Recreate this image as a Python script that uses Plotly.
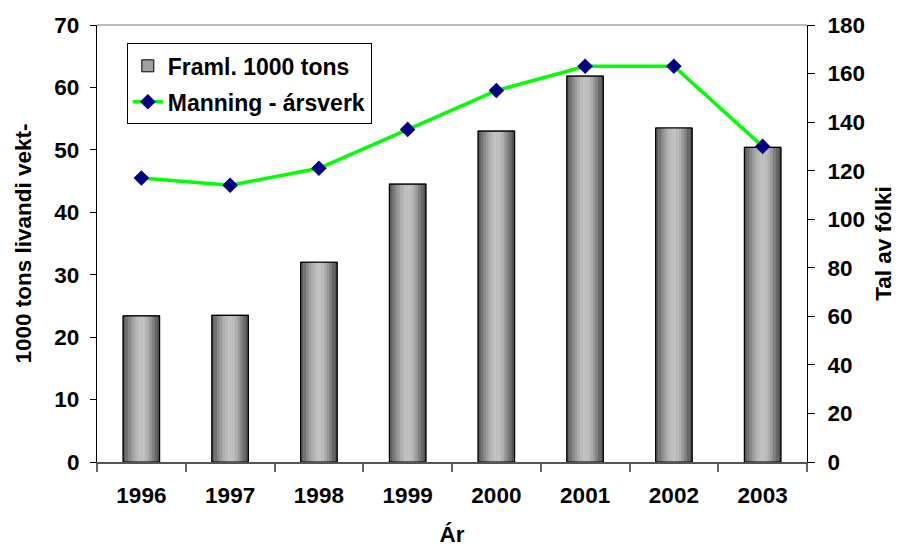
import plotly.graph_objects as go

years = ["1996", "1997", "1998", "1999", "2000", "2001", "2002", "2003"]
production = [23.4, 23.5, 32.0, 44.5, 53.0, 61.8, 53.5, 50.4]
manning = [117, 114, 121, 137, 153, 163, 163, 130]

bar_name = "Framl. 1000 tons"
line_name = "Manning - ársverk"
left_title = "1000 tons livandi vekt-"
right_title = "Tal av fólki"
x_title = "Ár"

# style: cylinder-like shading across each bar (left -> right)
shades = [0x5e, 0x72, 0x88, 0x9c, 0xae, 0xba, 0xc2, 0xc2, 0xbc, 0xae, 0x98, 0x80, 0x68, 0x54]
BW = 0.41
FONT = "Liberation Sans, Arial, sans-serif"
FS = 22.5

fig = go.Figure()
# base (legend entry)
fig.add_trace(go.Bar(x=years, y=production, name="<b>%s</b>" % bar_name, width=BW, offset=-BW / 2,
                     marker=dict(color="#a0a0a0", line=dict(color="black", width=1)),
                     legendgroup="a"))
n = len(shades)
sw = BW / n
for i, s in enumerate(shades):
    c = "#%02x%02x%02x" % (s, s, s)
    fig.add_trace(go.Bar(x=years, y=production, width=sw * 1.05, offset=-BW / 2 + i * sw,
                         marker=dict(color=c, line=dict(width=0)), showlegend=False,
                         hoverinfo="skip"))
# outline on top
fig.add_trace(go.Bar(x=years, y=production, width=BW, offset=-BW / 2, showlegend=False,
                     marker=dict(color="rgba(0,0,0,0)", line=dict(color="black", width=1.2)),
                     hoverinfo="skip"))
fig.add_trace(go.Scatter(x=years, y=manning, name="<b>%s</b>" % line_name, yaxis="y2",
                         mode="lines+markers",
                         line=dict(color="#00ff00", width=3.5),
                         marker=dict(symbol="diamond", size=12, color="#000080"),
                         legendgroup="b"))

tickfont = dict(family=FONT, size=FS, color="black")
fig.update_layout(
    width=899, height=547,
    margin=dict(l=97, r=92, t=25, b=85),
    paper_bgcolor="white", plot_bgcolor="white",
    barmode="overlay",
    font=dict(family=FONT, size=FS, color="black"),
    xaxis=dict(type="category", showline=True, linecolor="#555555", linewidth=1.5,
               ticks="outside", tickson="boundaries", ticklen=8, tickcolor="#666666",
               tickwidth=1.5, tickfont=tickfont, showgrid=False, automargin=False,
               ticklabelstandoff=12, tickprefix="<b>", ticksuffix="</b>",
               title=dict(text="<b>%s</b>" % x_title, font=dict(size=FS), standoff=21)),
    yaxis=dict(range=[0, 70], dtick=10, showline=True, linecolor="black", linewidth=1.2,
               ticks="outside", ticklen=6, tickcolor="black", tickfont=tickfont,
               showgrid=False, zeroline=False, ticklabelstandoff=6, automargin=False,
               tickprefix="<b>", ticksuffix="</b>",
               title=dict(text="<b>%s</b>" % left_title, font=dict(size=FS), standoff=16)),
    yaxis2=dict(range=[0, 180], dtick=20, overlaying="y", side="right", showline=True,
                linecolor="black", linewidth=1.2, ticks="outside", ticklen=7,
                tickcolor="black", tickfont=tickfont, showgrid=False, zeroline=False,
                ticklabelstandoff=8, automargin=False, tickprefix="<b>", ticksuffix="</b>",
                title=dict(text="<b>%s</b>" % right_title, font=dict(size=FS), standoff=11)),
    legend=dict(x=0.042, y=0.958, xanchor="left", yanchor="top", bgcolor="white",
                bordercolor="black", borderwidth=1, traceorder="grouped", tracegroupgap=3,
                font=dict(family=FONT, size=23, color="black")),
    showlegend=True,
    shapes=[dict(type="line", xref="paper", yref="paper", x0=0, x1=1, y0=1, y1=1,
                 line=dict(color="#777777", width=1))],
)

fig.write_html("out.html", config={"displayModeBar": False},
               post_script="document.body.style.margin='0';")
